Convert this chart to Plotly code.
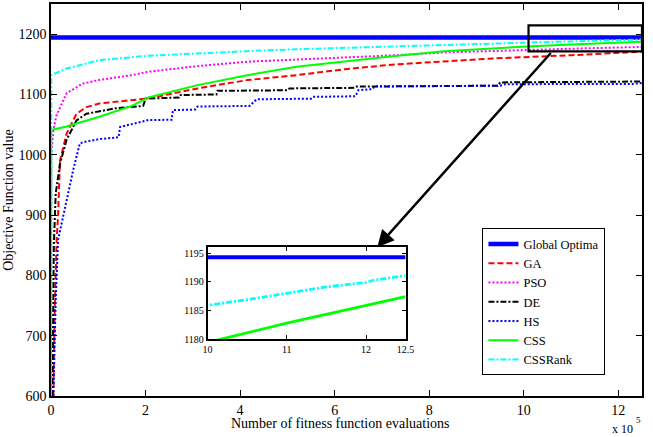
import plotly.graph_objects as go

# ---- data (x in units of 1e5 fitness evaluations) ----
global_x = [0, 12.5]
global_y = [1194.3, 1194.3]

ga_x = [0.05, 0.08, 0.12, 0.15, 0.19, 0.33, 0.54, 0.75, 1.02, 1.71, 2.06, 3.1, 4.15, 5.19, 6.23, 7.27, 8.31, 9.35, 11.0, 12.0, 12.5]
ga_y = [600, 750, 860, 900, 990, 1035, 1068, 1079, 1085, 1091, 1093.5, 1110, 1123.8, 1132, 1142, 1149.8, 1154.3, 1159.7, 1165, 1169.7, 1171]

pso_x = [0, 0.005, 0.05, 0.11, 0.33, 0.67, 1.02, 1.71, 2.06, 3.1, 4.15, 5.19, 6.23, 7.27, 8.31, 9.35, 11.07, 12.5]
pso_y = [600, 1000, 1040, 1064, 1102, 1118, 1124, 1132, 1137.7, 1147, 1154.3, 1158, 1161, 1165, 1169.7, 1172.3, 1176, 1178.8]

de_x = [0.03, 0.06, 0.1, 0.19, 0.33, 0.54, 0.75, 1.02, 1.36, 1.95, 2.0, 2.7, 2.72, 3.5, 3.52, 5.0, 5.04, 6.4, 6.44, 9.45, 9.5, 12.5]
de_y = [600, 850, 936, 985, 1025, 1057, 1068, 1072, 1077, 1081, 1093, 1095, 1099, 1100, 1106, 1107, 1110, 1111, 1113, 1114.5, 1120, 1121.5]

hs_x = [0.05, 0.1, 0.15, 0.33, 0.47, 0.61, 0.75, 1.02, 1.43, 1.46, 1.85, 2.06, 2.55, 2.58, 3.05, 3.1, 4.2, 4.35, 5.5, 5.54, 6.44, 6.5, 6.8, 6.85, 9.5, 9.6, 12.3, 12.5]
hs_y = [600, 760, 859, 925, 975, 1019, 1022, 1026, 1029, 1046, 1054, 1057.6, 1058, 1074, 1075, 1080, 1081, 1092, 1093, 1096, 1097, 1107, 1109, 1113.5, 1114.5, 1117, 1117.5, 1119]

css_x = [0, 0.005, 0.33, 1.02, 1.71, 2.06, 3.1, 4.15, 5.19, 6.23, 7.27, 8.31, 9.35, 10.17, 11.0, 11.49, 12.0, 12.5]
css_y = [600, 1041, 1047, 1063, 1081, 1095, 1115.5, 1132, 1146, 1155.3, 1163.6, 1171.8, 1177, 1180, 1182.8, 1184.3, 1185.9, 1187.4]

cssr_x = [0, 0.005, 0.33, 1.02, 2.06, 3.1, 4.15, 5.19, 6.23, 7.27, 8.31, 9.2, 10.0, 10.46, 11.0, 11.49, 12.0, 12.11, 12.5]
cssr_y = [600, 1132, 1143, 1157, 1164.2, 1168.5, 1171.8, 1175, 1177.4, 1180, 1183, 1184.6, 1185.9, 1186.8, 1188, 1189.1, 1189.9, 1190.3, 1191.1]

main_yticks = [600, 700, 800, 900, 1000, 1100, 1200]
main_xticks = [0, 2, 4, 6, 8, 10, 12]
inset_xticks = [10, 11, 12, 12.5]
inset_yticks = [1180, 1185, 1190, 1195]

FONT = "Liberation Serif, Times New Roman, serif"

series = [
    ("Global Optima", global_x, global_y, "#0000FF", 4.5, "solid"),
    ("GA", ga_x, ga_y, "#FF0000", 2, "6px,3px"),
    ("PSO", pso_x, pso_y, "#FF00FF", 2, "2px,2px"),
    ("DE", de_x, de_y, "#000000", 2, "6px,2px,2px,2px"),
    ("HS", hs_x, hs_y, "#0000FF", 2, "2px,2px"),
    ("CSS", css_x, css_y, "#00FF00", 2, "solid"),
    ("CSSRank", cssr_x, cssr_y, "#00FFFF", 2, "6px,2px,2px,2px"),
]

fig = go.Figure()
for name, xs, ys, col, w, dash in series:
    fig.add_trace(go.Scatter(x=xs, y=ys, mode="lines", name=name,
                             line=dict(color=col, width=w, dash=dash),
                             xaxis="x", yaxis="y"))
for name, xs, ys, col, w, dash in series:
    fig.add_trace(go.Scatter(x=xs, y=ys, mode="lines", name=name, showlegend=False,
                             line=dict(color=col, width=(4 if w > 3 else 2.8), dash=dash),
                             xaxis="x2", yaxis="y2"))

axis_common = dict(showline=True, linecolor="black", linewidth=1.5, mirror="allticks",
                   ticks="inside", tickcolor="black", showgrid=False, zeroline=False)

fig.update_layout(
    width=653, height=437,
    margin=dict(l=51, r=2, t=3, b=41),
    paper_bgcolor="white", plot_bgcolor="white",
    font=dict(family=FONT, color="black", size=14),
    xaxis=dict(range=[0, 12.5], tickvals=main_xticks, ticklen=6,
               tickfont=dict(size=14), domain=[0, 1], **axis_common),
    yaxis=dict(range=[600, 1250], tickvals=main_yticks, ticklen=6,
               tickfont=dict(size=14), domain=[0, 1], **axis_common),
    xaxis2=dict(range=[10, 12.5], tickvals=inset_xticks, ticklen=4,
                tickfont=dict(size=10), domain=[0.265, 0.6], anchor="y2", **axis_common),
    yaxis2=dict(range=[1180, 1196], tickvals=inset_yticks, ticklen=4,
                tickfont=dict(size=10), domain=[0.145, 0.379], anchor="x2", **axis_common),
    legend=dict(x=(489 - 51) / 600, y=(396 - 228) / 393, xanchor="left", yanchor="top",
                bgcolor="white", bordercolor="black", borderwidth=1,
                font=dict(size=12.5, family=FONT), tracegroupgap=0),
    showlegend=True,
)

# zoom rectangle on main axes
fig.add_shape(type="rect", xref="x", yref="y", x0=10.1, x1=12.5, y0=1171.3, y1=1214.4,
              line=dict(color="black", width=2.2), fillcolor="rgba(0,0,0,0)")

annotations = [
    dict(text="Objective Function value", xref="paper", yref="paper",
         x=-0.073, y=0.5, textangle=-90, showarrow=False, font=dict(size=14),
         xanchor="center", yanchor="middle"),
    dict(text="Number of fitness function evaluations", xref="paper", yref="paper",
         x=(345 - 51) / 600, y=(396 - 424) / 393, showarrow=False, font=dict(size=14),
         xanchor="center", yanchor="middle"),
    dict(text="x 10", xref="paper", yref="paper", x=(644 - 51) / 600, y=(396 - 429) / 393,
         showarrow=False, font=dict(size=12), xanchor="right", yanchor="middle"),
    dict(text="5", xref="paper", yref="paper", x=(647 - 51) / 600, y=(396 - 420) / 393,
         showarrow=False, font=dict(size=9), xanchor="center", yanchor="middle"),
    dict(text="", xref="x", yref="y", x=6.9, y=846.8, axref="x", ayref="y",
         ax=10.6, ay=1171.3, showarrow=True, arrowhead=2, arrowsize=1.4,
         arrowwidth=2.4, arrowcolor="black", standoff=0, startstandoff=0),
]
fig.update_layout(annotations=annotations)

fig.write_html("out.html")
